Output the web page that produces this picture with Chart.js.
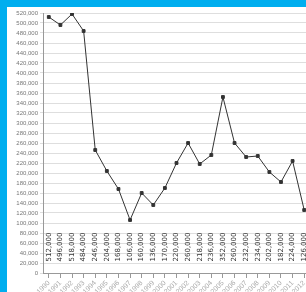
<!DOCTYPE html>
<html>
<head>
<meta charset="utf-8">
<script src="https://cdn.jsdelivr.net/npm/chart.js@4/dist/chart.umd.min.js"></script>
<style>
  html, body { margin: 0; padding: 0; overflow: hidden; }
  body { width: 306px; height: 292px; background: #00aeef; position: relative; }
  #wrap { position: absolute; left: 7px; top: 7px; width: 308px; height: 285px; background: #fff; }
</style>
</head>
<body>
<div id="wrap"><canvas id="lineChart" width="308" height="285"></canvas></div>
<script>
const years = ['1990','1991','1992','1993','1994','1995','1996','1997','1998','1999','2000','2001',
               '2002','2003','2004','2005','2006','2007','2008','2009','2010','2011','2012'];
const values = [512000, 496000, 518000, 484000, 246000, 204000, 168000, 106000, 160000, 136000, 170000, 220000,
                260000, 218000, 236000, 352000, 260000, 232000, 234000, 202000, 182000, 224000, 126000];
const yMax = 520000;
const yStep = 20000;

// value written vertically near the bottom of each column
const valueLabels = {
  id: 'valueLabels',
  afterDatasetsDraw(chart) {
    const ctx = chart.ctx;
    const meta = chart.getDatasetMeta(0);
    const base = chart.scales.y.getPixelForValue(0);
    ctx.save();
    ctx.font = '7px "DejaVu Sans"';
    ctx.fillStyle = '#333';
    ctx.textAlign = 'center';
    ctx.textBaseline = 'middle';
    meta.data.forEach((pt, i) => {
      ctx.save();
      ctx.translate(pt.x, base - 26);
      ctx.rotate(-Math.PI / 2);
      ctx.fillText(values[i].toLocaleString('en-US'), 0, 0);
      ctx.restore();
    });
    ctx.restore();
  }
};

new Chart(document.getElementById('lineChart').getContext('2d'), {
  type: 'line',
  data: {
    labels: years,
    datasets: [{
      data: values,
      borderColor: '#333',
      borderWidth: 1,
      backgroundColor: '#333',
      pointRadius: 2,
      pointStyle: 'rect',
      tension: 0
    }]
  },
  options: {
    responsive: false,
    animation: false,
    layout: { padding: { top: 6, right: 0, left: 0, bottom: 0 } },
    plugins: { legend: { display: false }, tooltip: { enabled: false } },
    scales: {
      x: {
        offset: true,
        grid: { drawOnChartArea: false, tickLength: 5, color: '#999' },
        border: { color: '#999' },
        ticks: { color: '#aaa', font: { size: 7 }, maxRotation: 45, minRotation: 45, autoSkip: false, padding: 1 },
        afterFit(scale) { scale.height = 19; }
      },
      y: {
        min: 0,
        max: yMax,
        grid: { color: '#dedede', tickLength: 3 },
        border: { color: '#999' },
        ticks: {
          stepSize: yStep,
          autoSkip: false,
          color: '#777',
          font: { size: 6 },
          padding: 2,
          callback: v => v.toLocaleString('en-US')
        },
        afterFit(scale) { scale.width = 36; }
      }
    }
  },
  plugins: [valueLabels]
});
</script>
</body>
</html>
